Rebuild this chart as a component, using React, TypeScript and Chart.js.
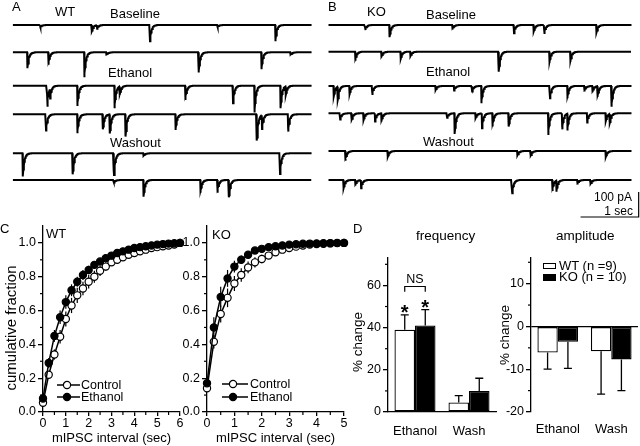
import React, { useEffect, useRef } from "react";
import { Chart, registerables } from "chart.js";

Chart.register(...registerables);

const FONT = "'Liberation Sans', Arial, Helvetica, sans-serif";

// ---------------- Panel A (WT) sweeps: [event time (s), amplitude (pA)] ----------------
const wtBaselineSweep1 = [[0.47, 8], [1.36, 25], [1.45, 14], [2.36, 65], [3.52, 8], [4.52, 65]];
const wtBaselineSweep2 = [[0.25, 64], [0.61, 50], [1.23, 100], [1.61, 12], [3.2, 81], [4.28, 68], [4.78, 12]];
const wtEthanolSweep1 = [[0.59, 84], [0.64, 40], [1.11, 81], [1.75, 90], [1.84, 35], [2.97, 57], [3.79, 70], [4.16, 107], [4.61, 90], [4.7, 35]];
const wtEthanolSweep2 = [[0.57, 65], [1.11, 76], [1.55, 60], [1.67, 76], [1.94, 89], [2.8, 63], [4.2, 105], [4.29, 56], [4.74, 69]];
const wtWashoutSweep1 = [[0.17, 93], [1.03, 84], [1.74, 87], [2.25, 10], [4.6, 83]];
const wtWashoutSweep2 = [[1.74, 10], [2.25, 67], [3.23, 51], [3.52, 51], [3.72, 69]];

// ---------------- Panel B (KO) sweeps ----------------
const koBaselineSweep1 = [[0.63, 20], [1.05, 49], [2.13, 18], [3.19, 33], [3.53, 27], [3.71, 36], [4.61, 31]];
const koBaselineSweep2 = [[0.46, 36], [0.91, 22], [1.24, 31], [1.41, 18], [2.93, 80], [3.8, 44], [4.16, 40]];
const koEthanolSweep1 = [[0.09, 43], [0.16, 53], [0.36, 36], [0.75, 36], [1.84, 18], [2.16, 18], [2.47, 22], [2.63, 69], [3.81, 49], [4.11, 49], [4.4, 22], [4.54, 25], [4.63, 43], [4.87, 83]];
const koEthanolSweep2 = [[0.2, 25], [0.4, 25], [0.6, 30], [0.8, 33], [0.91, 33], [2.04, 18], [2.17, 83], [2.53, 20], [2.64, 60], [2.82, 53], [3.1, 53], [3.78, 87], [4.02, 64], [4.11, 67], [4.45, 37], [4.77, 33], [4.84, 37]];
const koWashoutSweep1 = [[0.29, 39], [1.02, 23], [3.25, 18], [3.48, 18], [4.77, 25]];
const koWashoutSweep2 = [[0.26, 33], [0.46, 22], [0.56, 33], [3.16, 53], [3.85, 44], [3.92, 44], [4.28, 18], [4.51, 15]];

// ---------------- Panel C: cumulative fraction of mIPSC intervals ----------------
const wtIntervals = [0, 0.25, 0.5, 0.75, 1, 1.25, 1.5, 1.75, 2, 2.25, 2.5, 2.75, 3, 3.25, 3.5, 3.75, 4, 4.25, 4.5, 4.75, 5, 5.25, 5.5, 5.75, 6];
const wtControl = [0.055, 0.22, 0.34, 0.445, 0.55, 0.63, 0.69, 0.73, 0.77, 0.8, 0.835, 0.86, 0.885, 0.9, 0.915, 0.93, 0.94, 0.95, 0.96, 0.97, 0.975, 0.98, 0.985, 0.99, 1.0];
const wtControlErr = [0.01, 0.02, 0.03, 0.04, 0.045, 0.045, 0.045, 0.04, 0.04, 0.035, 0.03, 0.025, 0.02, 0.02, 0.015, 0.015, 0.012, 0.01, 0.01, 0.008, 0.006, 0.005, 0.004, 0.002, 0];
const wtEthanol = [0.08, 0.29, 0.45, 0.56, 0.65, 0.72, 0.77, 0.81, 0.84, 0.87, 0.89, 0.91, 0.925, 0.94, 0.95, 0.96, 0.97, 0.975, 0.98, 0.985, 0.99, 0.993, 0.996, 0.998, 1.0];
const wtEthanolErr = [0.02, 0.03, 0.035, 0.04, 0.04, 0.035, 0.03, 0.03, 0.025, 0.02, 0.02, 0.015, 0.015, 0.012, 0.01, 0.01, 0.008, 0.006, 0.005, 0.004, 0.003, 0.002, 0.002, 0.001, 0];

const koIntervals = [0, 0.25, 0.5, 0.75, 1, 1.25, 1.5, 1.75, 2, 2.25, 2.5, 2.75, 3, 3.25, 3.5, 3.75, 4, 4.25, 4.5, 4.75, 5];
const koControl = [0.14, 0.415, 0.58, 0.675, 0.76, 0.81, 0.855, 0.885, 0.905, 0.925, 0.945, 0.96, 0.97, 0.978, 0.985, 0.99, 0.993, 0.995, 0.997, 0.999, 1.0];
const koControlErr = [0.02, 0.04, 0.05, 0.055, 0.045, 0.04, 0.035, 0.03, 0.025, 0.02, 0.015, 0.012, 0.01, 0.008, 0.006, 0.005, 0.004, 0.003, 0.002, 0.001, 0];
const koEthanol = [0.17, 0.5, 0.68, 0.79, 0.86, 0.9, 0.93, 0.955, 0.965, 0.975, 0.98, 0.985, 0.99, 0.992, 0.995, 0.996, 0.997, 0.998, 0.999, 1.0, 1.0];
const koEthanolErr = [0.03, 0.06, 0.06, 0.05, 0.035, 0.025, 0.02, 0.015, 0.01, 0.008, 0.006, 0.005, 0.004, 0.003, 0.002, 0.002, 0.001, 0.001, 0, 0, 0];

// ---------------- Panel D: % change ----------------
const conditions = ["Ethanol", "Wash"];
const freqWT = [39, 4.5];
const freqWTErr = [7, 3.3];
const freqKO = [41, 10];
const freqKOErr = [7.5, 6];
const ampWT = [-6.1, -5.8];
const ampWTErr = [3.9, 10];
const ampKO = [-3.6, -7.7];
const ampKOErr = [6.2, 7.3];

// ---------------- layout constants ----------------
const TRACE_H = 222;
const PA_PER_PX = 4;
const ROWS_A = [25, 52.3, 85.7, 114.3, 153.3, 180];
const ROWS_B = [25, 51.7, 86, 113.3, 151, 180];
const SWEEP_SECONDS_A = 5.15;
const SWEEP_SECONDS_B = 5.22;
const RISE = 0.005;
const DECAY = 0.025;

function sweepPoints(events: number[][], base: number, seconds: number) {
  const set = new Set<number>();
  const n = Math.round(seconds / 0.008);
  for (let i = 0; i <= n; i++) set.add(+(i * 0.008).toFixed(4));
  events.forEach(([t]) => {
    set.add(t);
    set.add(+(t + RISE).toFixed(4));
  });
  const times = Array.from(set).sort((a, b) => a - b);
  return times.map((t) => {
    let v = 0;
    events.forEach(([te, a]) => {
      const d = t - te;
      if (d < 0) return;
      v += d < RISE ? (a * d) / RISE : a * Math.exp(-(d - RISE) / DECAY);
    });
    return { x: t, y: base - v };
  });
}

function traceConfig(sweeps: number[][][], rows: number[], seconds: number, padL: number, padR: number, extra: any[]) {
  return {
    type: "line",
    data: {
      datasets: sweeps.map((ev, i) => ({
        data: sweepPoints(ev, (TRACE_H - rows[i]) * PA_PER_PX, seconds),
        borderColor: "#000",
        borderWidth: 2,
        pointRadius: 0,
        tension: 0,
        fill: false,
      })),
    },
    options: {
      responsive: false,
      animation: false,
      events: [],
      layout: { padding: { left: padL, right: padR, top: 0, bottom: 0 } },
      scales: {
        x: { type: "linear", display: false, min: 0, max: seconds },
        y: { type: "linear", display: false, min: 0, max: TRACE_H * PA_PER_PX },
      },
      plugins: { legend: { display: false }, tooltip: { enabled: false } },
    },
    plugins: extra,
  };
}

const SCALE_BAR_END_S = 5.34;
const SCALE_BAR_BASE_PA = 20;
const scaleBarPlugin = {
  id: "scaleBar",
  afterDraw(chart: any) {
    const { ctx } = chart;
    const x = chart.scales.x;
    const y = chart.scales.y;
    const x1 = x.getPixelForValue(SCALE_BAR_END_S);
    const x0 = x.getPixelForValue(SCALE_BAR_END_S - 1);
    const y0 = y.getPixelForValue(SCALE_BAR_BASE_PA);
    const y1 = y.getPixelForValue(SCALE_BAR_BASE_PA + 100);
    ctx.save();
    ctx.strokeStyle = "#000";
    ctx.lineWidth = 1.2;
    ctx.beginPath();
    ctx.moveTo(x0, y0);
    ctx.lineTo(x1, y0);
    ctx.lineTo(x1, y1);
    ctx.stroke();
    ctx.restore();
  },
};

function minorTicks(xVals: number[], yVals: number[], len: number) {
  return {
    id: "minorTicks",
    afterDraw(chart: any) {
      const { ctx, chartArea } = chart;
      ctx.save();
      ctx.strokeStyle = "#000";
      ctx.lineWidth = 1.2;
      xVals.forEach((v) => {
        const px = chart.scales.x.getPixelForValue(v);
        ctx.beginPath();
        ctx.moveTo(px, chartArea.bottom);
        ctx.lineTo(px, chartArea.bottom + len);
        ctx.stroke();
      });
      yVals.forEach((v) => {
        const py = chart.scales.y.getPixelForValue(v);
        ctx.beginPath();
        ctx.moveTo(chartArea.left - len, py);
        ctx.lineTo(chartArea.left, py);
        ctx.stroke();
      });
      ctx.restore();
    },
  };
}

const lineErrorBars = {
  id: "lineErrorBars",
  beforeDatasetsDraw(chart: any) {
    const { ctx } = chart;
    const y = chart.scales.y;
    ctx.save();
    ctx.strokeStyle = "#000";
    ctx.lineWidth = 1.2;
    chart.data.datasets.forEach((ds: any, i: number) => {
      const meta = chart.getDatasetMeta(i);
      meta.data.forEach((pt: any, j: number) => {
        const v = ds.data[j].y;
        const e = ds.errorBars[j];
        if (!e) return;
        ctx.beginPath();
        ctx.moveTo(pt.x, y.getPixelForValue(v - e));
        ctx.lineTo(pt.x, y.getPixelForValue(v + e));
        ctx.stroke();
      });
    });
    ctx.restore();
  },
};

const barErrorBars = {
  id: "barErrorBars",
  afterDatasetsDraw(chart: any) {
    const { ctx } = chart;
    const y = chart.scales.y;
    ctx.save();
    ctx.strokeStyle = "#000";
    ctx.lineWidth = 1.3;
    chart.data.datasets.forEach((ds: any, i: number) => {
      const meta = chart.getDatasetMeta(i);
      meta.data.forEach((bar: any, j: number) => {
        const v = ds.data[j];
        const e = ds.errorBars[j];
        const py = y.getPixelForValue(v >= 0 ? v + e : v - e);
        ctx.beginPath();
        ctx.moveTo(bar.x, bar.y);
        ctx.lineTo(bar.x, py);
        ctx.moveTo(bar.x - 4, py);
        ctx.lineTo(bar.x + 4, py);
        ctx.stroke();
      });
    });
    ctx.restore();
  },
};

const NS_LEVEL = 59.5;
const NS_DROP = 2.5;
const significance = {
  id: "significance",
  afterDatasetsDraw(chart: any) {
    const { ctx } = chart;
    const y = chart.scales.y;
    ctx.save();
    ctx.fillStyle = "#000";
    ctx.strokeStyle = "#000";
    ctx.textAlign = "center";
    ctx.textBaseline = "alphabetic";
    ctx.font = `bold 20px ${FONT}`;
    const xs: number[] = [];
    chart.data.datasets.forEach((ds: any, i: number) => {
      const bar = chart.getDatasetMeta(i).data[0];
      xs.push(bar.x);
      const top = y.getPixelForValue(ds.data[0] + ds.errorBars[0]);
      ctx.fillText("*", bar.x, top + 4);
    });
    const yb = y.getPixelForValue(NS_LEVEL);
    const yt = y.getPixelForValue(NS_LEVEL - NS_DROP);
    ctx.lineWidth = 1.2;
    ctx.beginPath();
    ctx.moveTo(xs[0], yt);
    ctx.lineTo(xs[0], yb);
    ctx.lineTo(xs[1], yb);
    ctx.lineTo(xs[1], yt);
    ctx.stroke();
    ctx.font = `12.5px ${FONT}`;
    ctx.fillText("NS", (xs[0] + xs[1]) / 2, yb - 3);
    ctx.restore();
  },
};

const tickFont = { family: FONT, size: 12.5 };

function yAxisBase(width: number) {
  return {
    afterFit: (s: any) => {
      s.width = width;
    },
    grid: { display: true, drawOnChartArea: false, drawTicks: true, tickLength: 5, color: "#000", lineWidth: 1.3 },
    border: { display: true, color: "#000", width: 1.3 },
  };
}

function cumulativeConfig(times: number[], control: number[], controlErr: number[], ethanol: number[], ethanolErr: number[], xMax: number, yWidth: number, padR: number) {
  const pts = (vals: number[]) => vals.map((v, i) => ({ x: times[i], y: v }));
  const minorX: number[] = [];
  for (let i = 0; i < xMax; i++) minorX.push(i + 0.5);
  const common = { borderColor: "#000", pointBorderColor: "#000", pointRadius: 3.6, pointBorderWidth: 1.2, borderWidth: 1.5, tension: 0, clip: false };
  return {
    type: "line",
    data: {
      datasets: [
        { label: "Ethanol", data: pts(ethanol), errorBars: ethanolErr, backgroundColor: "#000", pointBackgroundColor: "#000", ...common },
        { label: "Control", data: pts(control), errorBars: controlErr, backgroundColor: "#fff", pointBackgroundColor: "#fff", ...common },
      ],
    },
    options: {
      responsive: false,
      animation: false,
      events: [],
      layout: { padding: { top: 10, right: padR, left: 0, bottom: 0 } },
      plugins: { legend: { display: false }, tooltip: { enabled: false } },
      scales: {
        x: {
          type: "linear",
          min: 0,
          max: xMax,
          afterFit: (s: any) => {
            s.height = 34;
          },
          ticks: { stepSize: 1, font: tickFont, color: "#000", padding: 0, maxRotation: 0 },
          grid: { display: true, drawOnChartArea: false, drawTicks: true, tickLength: 4, color: "#000", lineWidth: 1.3 },
          border: { display: true, color: "#000", width: 1.3 },
          title: { display: true, text: "mIPSC interval (sec)", font: { family: FONT, size: 13 }, color: "#000", padding: 0 },
        },
        y: {
          type: "linear",
          min: 0,
          max: 1.1,
          ...yAxisBase(yWidth),
          ticks: { stepSize: 0.2, includeBounds: false, callback: (v: any) => Number(v).toFixed(1), font: tickFont, color: "#000", padding: 2 },
        },
      },
    },
    plugins: [lineErrorBars, minorTicks(minorX, [0.1, 0.3, 0.5, 0.7, 0.9], 3)],
  };
}

function barConfig(wt: number[], wtErr: number[], ko: number[], koErr: number[], yMin: number, yMax: number, step: number, minorY: number[], yWidth: number, padR: number, zeroLine: boolean, xBorder: boolean, labelPad: number, extra: any[]) {
  const common = { borderColor: "#000", borderWidth: 1.3, borderSkipped: false, barPercentage: 1, categoryPercentage: 0.76 };
  return {
    type: "bar",
    data: {
      labels: conditions,
      datasets: [
        { label: "WT", data: wt, errorBars: wtErr, backgroundColor: "#fff", ...common },
        { label: "KO", data: ko, errorBars: koErr, backgroundColor: "#000", ...common },
      ],
    },
    options: {
      responsive: false,
      animation: false,
      events: [],
      layout: { padding: { top: 10, right: padR, left: 0, bottom: 0 } },
      plugins: { legend: { display: false }, tooltip: { enabled: false } },
      scales: {
        x: {
          afterFit: (s: any) => {
            s.height = 34;
          },
          ticks: { font: { family: FONT, size: 13 }, color: "#000", padding: labelPad, maxRotation: 0 },
          grid: { display: false },
          border: { display: xBorder, color: "#000", width: 1.3 },
        },
        y: {
          type: "linear",
          min: yMin,
          max: yMax,
          ...yAxisBase(yWidth),
          grid: zeroLine
            ? {
                display: true,
                drawOnChartArea: true,
                drawTicks: true,
                tickLength: 5,
                lineWidth: 1.3,
                tickColor: "#000",
                color: (c: any) => (c.tick && c.tick.value === 0 ? "#000" : "rgba(0,0,0,0)"),
              }
            : { display: true, drawOnChartArea: false, drawTicks: true, tickLength: 5, color: "#000", lineWidth: 1.3 },
          ticks: { stepSize: step, includeBounds: false, font: tickFont, color: "#000", padding: 2 },
        },
      },
    },
    plugins: [barErrorBars, minorTicks([], minorY, 3), ...extra],
  };
}

function ChartCanvas({ left, top, width, height, make }: { left: number; top: number; width: number; height: number; make: () => any }) {
  const ref = useRef<HTMLCanvasElement | null>(null);
  useEffect(() => {
    const chart = new Chart(ref.current as HTMLCanvasElement, make());
    return () => chart.destroy();
  }, []);
  return <canvas ref={ref} width={width} height={height} style={{ position: "absolute", left, top, width, height }} />;
}

function Txt({ x, base, text, size = 13, align = "left" }: { x: number; base: number; text: string; size?: number; align?: string }) {
  const style: any = {
    position: "absolute",
    top: base - size * 0.8465,
    fontSize: size,
    lineHeight: `${size}px`,
    whiteSpace: "nowrap",
  };
  if (align === "left") style.left = x;
  else if (align === "right") style.right = 640 - x;
  else {
    style.left = x;
    style.transform = "translateX(-50%)";
  }
  return <div style={style}>{text}</div>;
}

function YTitle({ cx, cy, text, size }: { cx: number; cy: number; text: string; size: number }) {
  return (
    <div
      style={{
        position: "absolute",
        left: cx,
        top: cy,
        fontSize: size,
        lineHeight: `${size}px`,
        whiteSpace: "nowrap",
        transform: "translate(-50%, -50%) rotate(-90deg)",
      }}
    >
      {text}
    </div>
  );
}

function LineMarker({ left, cy, width, circleX, filled }: { left: number; cy: number; width: number; circleX: number; filled: boolean }) {
  return (
    <svg width={width} height={10} style={{ position: "absolute", left, top: cy - 5 }}>
      <line x1={0} y1={5} x2={width} y2={5} stroke="#000" strokeWidth={1.5} />
      <circle cx={circleX} cy={5} r={3.6} fill={filled ? "#000" : "#fff"} stroke="#000" strokeWidth={1.2} />
    </svg>
  );
}

export default function App() {
  return (
    <div
      style={{
        position: "absolute",
        left: 0,
        top: 0,
        width: 640,
        height: 446,
        background: "#fff",
        color: "#000",
        fontFamily: FONT,
        overflow: "hidden",
      }}
    >
      <ChartCanvas
        left={0}
        top={0}
        width={320}
        height={TRACE_H}
        make={() =>
          traceConfig(
            [wtBaselineSweep1, wtBaselineSweep2, wtEthanolSweep1, wtEthanolSweep2, wtWashoutSweep1, wtWashoutSweep2],
            ROWS_A,
            SWEEP_SECONDS_A,
            12.7,
            8.3,
            []
          )
        }
      />
      <ChartCanvas
        left={320}
        top={0}
        width={320}
        height={TRACE_H}
        make={() =>
          traceConfig(
            [koBaselineSweep1, koBaselineSweep2, koEthanolSweep1, koEthanolSweep2, koWashoutSweep1, koWashoutSweep2],
            ROWS_B,
            SWEEP_SECONDS_B,
            8.3,
            8.3,
            [scaleBarPlugin]
          )
        }
      />
      <ChartCanvas left={0} top={216} width={188} height={230} make={() => cumulativeConfig(wtIntervals, wtControl, wtControlErr, wtEthanol, wtEthanolErr, 6, 43, 8)} />
      <ChartCanvas left={180} top={216} width={170} height={230} make={() => cumulativeConfig(koIntervals, koControl, koControlErr, koEthanol, koEthanolErr, 5, 27, 6)} />
      <ChartCanvas
        left={345}
        top={248}
        width={160}
        height={198}
        make={() => barConfig(freqWT, freqWTErr, freqKO, freqKOErr, 0, 73, 20, [10, 30, 50, 70], 43, 9, false, true, 4, [significance])}
      />
      <ChartCanvas
        left={492}
        top={248}
        width={148}
        height={198}
        make={() => barConfig(ampWT, ampWTErr, ampKO, ampKOErr, -20, 16, 10, [-15, -5, 5, 15], 39, 2, true, false, 2, [])}
      />

      {/* Panel A / B labels */}
      <Txt x={12} base={11.5} text="A" size={13} />
      <Txt x={55} base={16} text="WT" />
      <Txt x={110} base={18.5} text="Baseline" />
      <Txt x={108} base={77} text="Ethanol" />
      <Txt x={110} base={147} text="Washout" />
      <Txt x={328} base={10.5} text="B" size={13} />
      <Txt x={367} base={16.5} text="KO" />
      <Txt x={426} base={19} text="Baseline" />
      <Txt x={426} base={76.5} text="Ethanol" />
      <Txt x={423} base={146.5} text="Washout" />
      <Txt x={632} base={201} text="100 pA" size={12} align="right" />
      <Txt x={633} base={215} text="1 sec" size={12} align="right" />

      {/* Panel C labels */}
      <Txt x={0} base={233.5} text="C" size={13} />
      <Txt x={46} base={238.5} text="WT" />
      <Txt x={212} base={239} text="KO" />
      <YTitle cx={10} cy={327.5} text="cumulative fraction" size={15} />
      <LineMarker left={57} cy={384.5} width={23} circleX={10} filled={false} />
      <LineMarker left={57} cy={397} width={23} circleX={10} filled={true} />
      <Txt x={81} base={390} text="Control" size={12.5} />
      <Txt x={81} base={402} text="Ethanol" size={12.5} />
      <LineMarker left={222} cy={383.5} width={26} circleX={11} filled={false} />
      <LineMarker left={222} cy={396.7} width={26} circleX={11} filled={true} />
      <Txt x={250} base={388.5} text="Control" size={12.5} />
      <Txt x={250} base={401.5} text="Ethanol" size={12.5} />

      {/* Panel D labels */}
      <Txt x={353} base={233.5} text="D" size={13} />
      <Txt x={416} base={240} text="frequency" size={13.5} />
      <Txt x={556} base={240} text="amplitude" size={13.5} />
      <YTitle cx={358} cy={342} text="% change" size={13.5} />
      <YTitle cx={505} cy={335} text="% change" size={13.5} />
      <div style={{ position: "absolute", left: 543, top: 263, width: 13, height: 6, border: "1.2px solid #000", background: "#fff", boxSizing: "border-box" }} />
      <div style={{ position: "absolute", left: 543, top: 274, width: 13, height: 7, background: "#000" }} />
      <Txt x={559} base={270} text="WT (n =9)" size={13} />
      <Txt x={559} base={281} text="KO (n = 10)" size={13} />
    </div>
  );
}
